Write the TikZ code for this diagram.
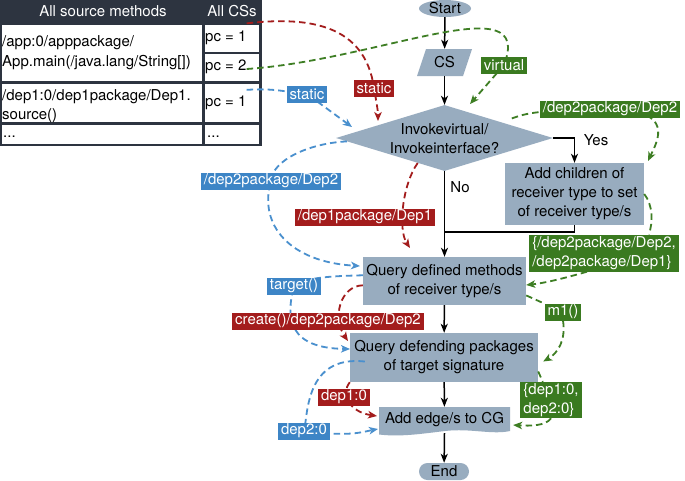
\documentclass[tikz,border=0pt]{standalone}
\usepackage{fontspec}
\setmainfont{TeX Gyre Heros}
\usetikzlibrary{arrows.meta,shapes.geometric}
\pgfdeclarelayer{fg}
\pgfsetlayers{main,fg}
\definecolor{boxc}{RGB}{152,172,191}
\definecolor{tabdark}{RGB}{45,52,64}
\definecolor{cred}{RGB}{163,28,28}
\definecolor{cblue}{RGB}{74,144,206}
\definecolor{cbluetag}{RGB}{61,133,198}
\definecolor{cgreen}{RGB}{62,126,36}
\definecolor{cgreentag}{RGB}{58,122,32}
\tikzset{
  boxnode/.style={rectangle, fill=boxc, inner sep=0pt, align=center},
  tag/.style={inner xsep=3pt, inner ysep=0pt, minimum height=17pt, text=white},
  redtag/.style={tag, fill=cred},
  bluetag/.style={tag, fill=cbluetag},
  greentag/.style={tag, fill=cgreentag},
  blackarrow/.style={line width=1.5pt, -{Stealth[length=9pt,width=7pt,inset=2.5pt]}},
  blackline/.style={line width=1.5pt},
  conn/.style={line width=1.8pt, dash pattern=on 6.5pt off 4pt, -{Stealth[length=9pt,width=7.5pt,inset=2.5pt]}},
  redcon/.style={conn, draw=cred},
  bluecon/.style={conn, draw=cblue},
  greencon/.style={conn, draw=cgreen},
  celltext/.style={anchor=west, inner sep=0pt, align=left}
}
\begin{document}
\begin{tikzpicture}[x=1pt, y=-1pt, font=\fontsize{15}{19}\selectfont]
\useasboundingbox (0,0) rectangle (685,480);
\fill[white] (0,0) rectangle (685,480);

% ---------- table ----------
\fill[tabdark] (0,0) rectangle (261.5,146);
\fill[white] (1.5,24.5) rectangle (202,81);
\fill[white] (204.5,24.5) rectangle (259,51.5);
\fill[white] (204.5,53.5) rectangle (259,81);
\fill[white] (1.5,83.5) rectangle (202,122);
\fill[white] (204.5,83.5) rectangle (259,122);
\fill[white] (1.5,124.5) rectangle (202,143.5);
\fill[white] (204.5,124.5) rectangle (259,143.5);
\node[text=white, inner sep=0pt] (h1) at (103,11.5) {All source methods};
\node[text=white, inner sep=0pt] (h2) at (232,11.5) {All CSs};
\node[celltext, font=\fontsize{15}{20}\selectfont] (m1) at (2,53) {/app:0/apppackage/\\App.main(/java.lang/String[])};
\node[celltext] (pc1) at (205,37.5) {pc = 1};
\node[celltext] (pc2) at (205,67) {pc = 2};
\node[celltext] (m2) at (2,106) {/dep1:0/dep1package/Dep1.\\source()};
\node[celltext] (pc3) at (205,103) {pc = 1};
\node[celltext] (m3) at (3,137) {...};
\node[celltext] (pc4) at (207,137) {...};

% ---------- flowchart ----------
\node[ellipse, fill=boxc, inner sep=0pt, minimum width=52pt, minimum height=17pt] (start) at (445,8.5) {Start};
\fill[boxc] (417,76) -- (463,76) -- (472,49) -- (426,49) -- cycle;
\node[inner sep=0pt, minimum width=46pt, minimum height=27pt] (cs) at (444.5,62.5) {CS};
\node[diamond, fill=boxc, inner sep=0pt, minimum width=217pt, minimum height=66pt] (dia) at (444.5,138) {};
\node[align=center, inner sep=0pt] (diat) at (444.5,139) {Invokevirtual/\\Invokeinterface?};
\node[boxnode, minimum width=139pt, minimum height=62pt] (ach) at (574.5,194) {Add children of\\receiver type to set\\of receiver type/s};
\node[boxnode, minimum width=163pt, minimum height=48pt] (qdm) at (444.5,281) {Query defined methods\\of receiver type/s};
\node[boxnode, minimum width=188pt, minimum height=49pt] (qdp) at (444,357.5) {Query defending packages\\of target signature};
\fill[boxc] (379,407) -- (510,407) -- (510,431) .. controls (492,435) and (470,428) .. (445,431) .. controls (420,434) and (400,437) .. (379,434.5) -- cycle;
\node[inner sep=0pt, minimum width=131pt, minimum height=26pt] (ae) at (444.5,420) {Add edge/s to CG};
\node[rectangle, rounded corners=8.5pt, fill=boxc, inner sep=0pt, minimum width=50pt, minimum height=17pt] (endn) at (444,471.5) {End};
\node[inner sep=0pt] (yes) at (596,140) {Yes};
\node[inner sep=0pt] (no) at (460,187) {No};
\coordinate (join) at (444.5,232);

\draw[blackarrow] (start) -- (cs);
\draw[blackarrow] (cs) -- (dia);
\draw[blackarrow] (dia.east) -| (ach.north);
\draw[blackarrow] (dia.south) -- (qdm.north);
\draw[blackline] (ach.south) |- (join);
\draw[blackarrow] (qdm) -- (qdp);
\draw[blackarrow] (qdp) -- (ae);
\draw[blackarrow] (ae.south) -- (endn);

% ---------- tags (foreground) ----------
\begin{pgfonlayer}{fg}
\node[redtag] (rs) at (374,88) {static};
\node[redtag] (rd1) at (365,217) {/dep1package/Dep1};
\node[redtag] (rc) at (328,321) {create()/dep2package/Dep2};
\node[redtag] (rd) at (344,397) {dep1:0};
\node[bluetag] (bs) at (307,94) {static};
\node[bluetag] (bd2) at (271,181) {/dep2package/Dep2};
\node[bluetag] (bt) at (294,286) {target()};
\node[bluetag] (bd) at (304,431) {dep2:0};
\node[greentag] (gv) at (504,65) {virtual};
\node[greentag] (gd2) at (610,109) {/dep2package/Dep2};
\node[greentag, align=left, minimum height=37pt] (gset) at (604,253) {\{/dep2package/Dep2,\\/dep2package/Dep1\}};
\node[greentag] (gm) at (563,312) {m1()};
\node[greentag, align=left, minimum height=36pt] (gdd) at (551,400) {\{dep1:0,\\dep2:0\}};
\end{pgfonlayer}

% ---------- tip coordinates ----------
\coordinate (tR1) at (378,121);
\coordinate (tR2) at (410,248);
\coordinate (tR3) at (348,341);
\coordinate (tR4) at (377,416);
\coordinate (tB1) at (352,127);
\coordinate (tB2) at (360,266);
\coordinate (tB3) at (350,349);
\coordinate (tB4) at (378,429);
\coordinate (tG1) at (470,104);
\coordinate (tG2) at (648,161);

% ---------- red ----------
\draw[redcon] ([yshift=7pt]pc1.north east) .. controls (310,16) and (365,25) .. (rs.center) .. controls (376,100) and (378,110) .. (tR1);
\draw[redcon] (dia.223) .. controls (402,185) and (398,230) .. (tR2);
\draw[redcon] (qdm.183) .. controls (340,286) and (332,318) .. (tR3);
\draw[redcon] (qdp.south west) .. controls (340,395) and (350,412) .. (tR4);

% ---------- blue ----------
\draw[bluecon] ([yshift=6pt]pc3.north east) .. controls (275,88) and (285,92) .. (bs.center) -- (tB1);
\draw[bluecon] (dia.182) .. controls (310,143) and (272,160) .. (bd2.center) .. controls (258,225) and (290,262) .. (tB2);
\draw[bluecon] (qdm.176) .. controls (335,276) and (305,277) .. (bt.center) .. controls (285,320) and (290,348) .. (tB3);
\draw[bluecon] ([shift={(15pt,-4pt)}]qdp.west) .. controls (305,355) and (308,415) .. (bd.center) .. controls (350,437) and (362,432) .. (tB4);

% ---------- green ----------
\draw[greencon] ([yshift=-2pt]pc2.east) .. controls (380,60) and (535,-15) .. (gv.center) -- (tG1);
\draw[greencon] ([shift={(13pt,3pt)}]dia.north east) .. controls (525,114) and (532,110) .. (gd2.center) .. controls (675,110) and (658,140) .. (tG2);
\draw[greencon] (ach.east) .. controls (653,205) and (653,222) .. ([xshift=-30pt]gset.north east) ([xshift=-17pt]gset.south) .. controls (565,278) and (545,283) .. ([yshift=-4pt]qdm.east);
\draw[greencon] (qdm.350) -- (gm) (gm.south) .. controls (566,340) and (558,353) .. ([shift={(5pt,-4pt)}]qdp.east);
\draw[greencon] ([yshift=-14pt]qdp.east) -- (gdd) (gdd.south) .. controls (546,426) and (530,426) .. ([shift={(3pt,-5pt)}]ae.east);
\end{tikzpicture}
\end{document}
